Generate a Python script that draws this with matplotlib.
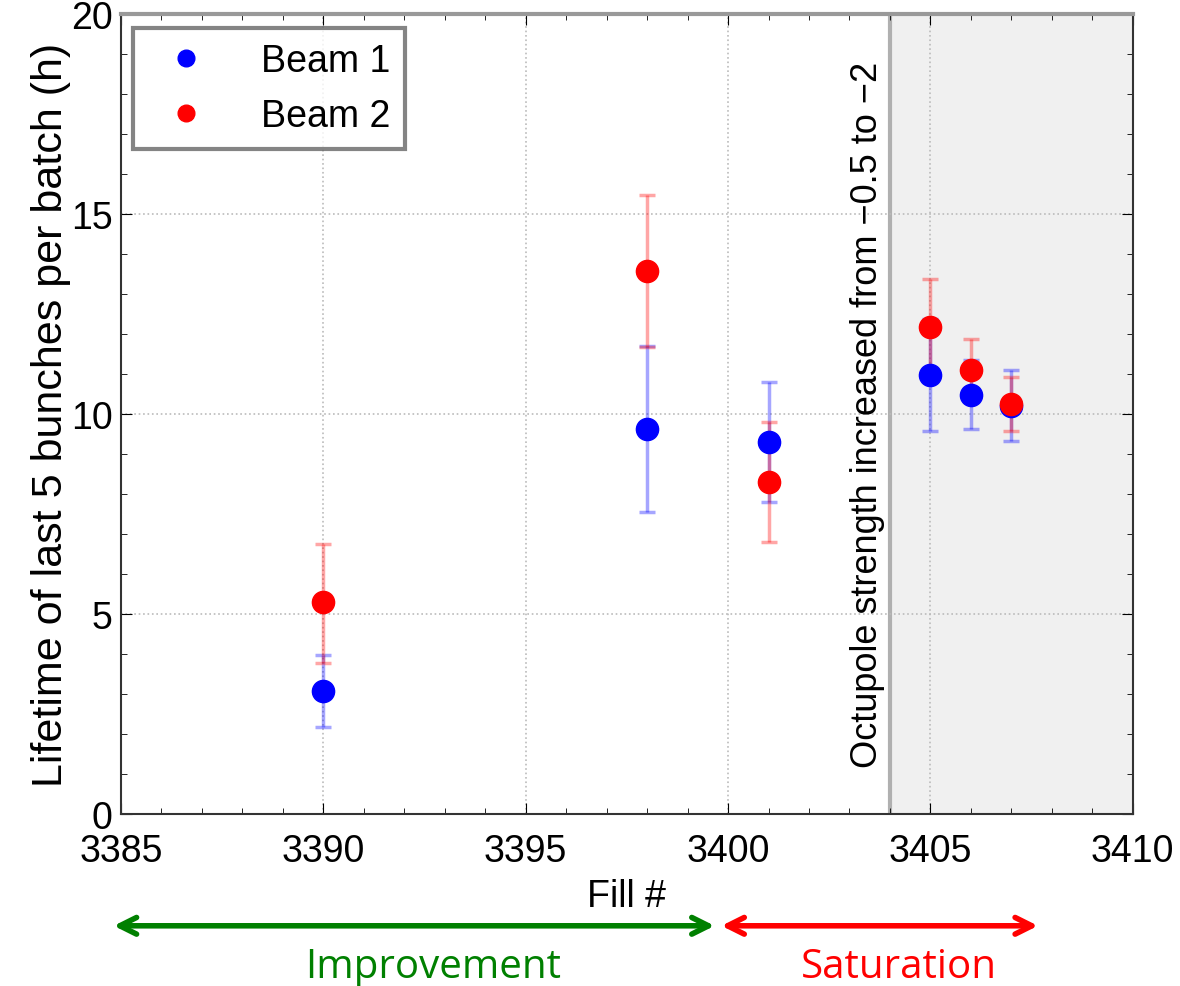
import matplotlib.pyplot as plt
from matplotlib.ticker import MultipleLocator

fills = [3390, 3398, 3401, 3405, 3406, 3407]

beam1 = [3.07, 9.63, 9.3, 10.97, 10.48, 10.2]
beam1_lo = [2.17, 7.55, 7.8, 9.57, 9.62, 9.33]
beam1_hi = [3.98, 11.7, 10.8, 12.37, 11.35, 11.1]

beam2 = [5.3, 13.58, 8.3, 12.17, 11.1, 10.25]
beam2_lo = [3.78, 11.67, 6.8, 10.95, 10.33, 9.57]
beam2_hi = [6.75, 15.48, 9.8, 13.38, 11.87, 10.93]

octupole_fill = 3404
label_font = "Liberation Sans"

fig = plt.figure(figsize=(11.8, 9.87), dpi=100)
ax = fig.add_axes([0.1025, 0.1743, 0.8575, 0.8105])

ax.axvspan(octupole_fill, 3410, color="#f0f0f0", zorder=0)
ax.axvline(octupole_fill, color="#b0b0b0", lw=3, zorder=1)

for y, lo, hi, col, name in [
    (beam1, beam1_lo, beam1_hi, "#0000ff", "Beam 1"),
    (beam2, beam2_lo, beam2_hi, "#ff0000", "Beam 2"),
]:
    err = [[v - l for v, l in zip(y, lo)], [h - v for v, h in zip(y, hi)]]
    ax.errorbar(fills, y, yerr=err, fmt="none", ecolor=col, alpha=0.35,
                elinewidth=2.5, capsize=6, capthick=2.5, zorder=3)
    ax.plot(fills, y, "o", color=col, ms=16, label=name, zorder=4)

ax.set_xlim(3385, 3410)
ax.set_ylim(0, 20)
ax.xaxis.set_major_locator(MultipleLocator(5))
ax.yaxis.set_major_locator(MultipleLocator(5))
ax.xaxis.set_minor_locator(MultipleLocator(1))
ax.yaxis.set_minor_locator(MultipleLocator(1))
ax.tick_params(which="both", direction="in", top=True, right=True, labelsize=27)
ax.tick_params(axis="x", pad=14)
ax.tick_params(axis="y", pad=6)
ax.tick_params(which="major", length=8)
ax.tick_params(which="minor", length=4)
for lab in ax.get_xticklabels() + ax.get_yticklabels():
    lab.set_fontfamily(label_font)
ax.grid(True, which="major", ls=":", color="#bbbbbb", lw=1.2)
for s in ax.spines.values():
    s.set_color("#333333")
    s.set_linewidth(1.5)
ax.spines["top"].set_color("#999999")
ax.spines["top"].set_linewidth(3)

ax.set_xlabel("Fill #", fontsize=27, family=label_font, labelpad=6)
ax.set_ylabel("Lifetime of last 5 bunches per batch (h)", fontsize=31,
              family=label_font, labelpad=0)

leg = ax.legend(loc="upper left", prop={"family": label_font, "size": 27},
                handletextpad=1.0, borderpad=0.4, fancybox=False,
                borderaxespad=0, bbox_to_anchor=(0.012, 0.982),
                markerscale=0.75, handlelength=2.0)
leg.get_frame().set_edgecolor("#666666")
leg.get_frame().set_linewidth(3)

ax.text(octupole_fill - 0.12, 10, "Octupole strength increased from \u22120.5 to \u22122",
        rotation=90, ha="right", va="center", fontsize=26, family=label_font)

# region arrows below the axis
ax.annotate("", xy=(0.094, 0.061), xytext=(0.608, 0.061), xycoords="figure fraction",
            arrowprops=dict(arrowstyle="<->", color="#008000", lw=4, mutation_scale=30))
ax.annotate("", xy=(0.609, 0.061), xytext=(0.882, 0.061), xycoords="figure fraction",
            arrowprops=dict(arrowstyle="<->", color="#ff0000", lw=4, mutation_scale=30))
fig.text(0.367, 0.02, "Improvement", color="#008000", fontsize=29,
         family="Open Sans", ha="center", va="center")
fig.text(0.762, 0.02, "Saturation", color="#ff0000", fontsize=29,
         family="Open Sans", ha="center", va="center")

fig.savefig("out.png", dpi=100)
